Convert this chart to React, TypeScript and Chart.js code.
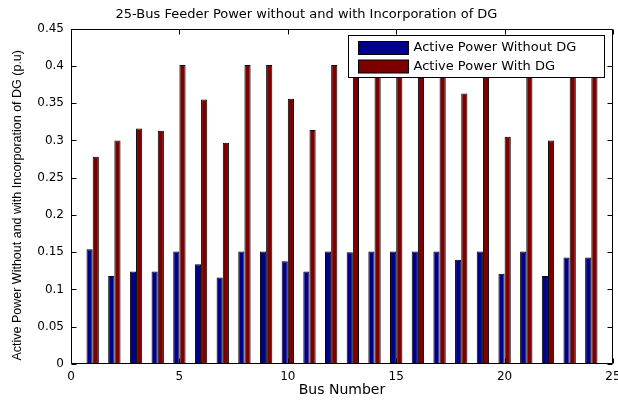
import { useEffect, useRef } from "react";
import { Chart, registerables } from "chart.js";

Chart.register(...registerables);

// Bus index along the feeder
const busNumbers = [
  1, 2, 3, 4, 5, 6, 7, 8, 9, 10, 11, 12, 13, 14, 15, 16, 17, 18, 19, 20, 21, 22, 23, 24,
];

// Active power (p.u) per bus, before DG is connected
const powerWithoutDG = [
  0.154, 0.118, 0.124, 0.124, 0.151, 0.134, 0.116, 0.151, 0.151, 0.138, 0.124, 0.151,
  0.15, 0.151, 0.151, 0.151, 0.151, 0.14, 0.151, 0.121, 0.151, 0.118, 0.143, 0.143,
];

// Active power (p.u) per bus, after DG is connected
const powerWithDG = [
  0.278, 0.3, 0.316, 0.313, 0.401, 0.355, 0.297, 0.401, 0.401, 0.356, 0.314, 0.401,
  0.401, 0.401, 0.401, 0.401, 0.401, 0.363, 0.401, 0.305, 0.401, 0.3, 0.401, 0.401,
];

const seriesNames = ["Active Power Without DG", "Active Power With DG"];
const seriesColors = ["#00008c", "#7c0000"];

const yTicks = [0, 0.05, 0.1, 0.15, 0.2, 0.25, 0.3, 0.35, 0.4, 0.45];
const xTicks = [0, 5, 10, 15, 20, 25];

const chartTitle = "25-Bus Feeder Power without and with Incorporation of DG";
const xTitle = "Bus Number";
const yTitle = "Active Power Without and with Incorporation of DG (p.u)";

const TEXT_FONT = "'DejaVu Sans', 'Liberation Sans', Arial, sans-serif";
const NARROW_FONT = "'Liberation Sans', Arial, sans-serif";

// Box around the plot with inward ticks on all four sides, a legend inside the
// plot and the rotated y-axis title.
const framePlugin = {
  id: "matlabFrame",
  afterDatasetsDraw(chart: any) {
    const { ctx, chartArea: a, scales } = chart;
    const L = Math.round(a.left) + 0.5;
    const R = Math.round(a.right) - 0.5;
    const T = Math.round(a.top) + 0.5;
    const B = Math.round(a.bottom) - 0.5;
    const tick = 5;
    ctx.save();
    ctx.strokeStyle = "#000";
    ctx.lineWidth = 1;
    ctx.beginPath();
    ctx.rect(L, T, R - L, B - T);
    for (const v of xTicks) {
      const px = Math.round(scales.x.getPixelForValue(v)) + 0.5;
      ctx.moveTo(px, B);
      ctx.lineTo(px, B - tick);
      ctx.moveTo(px, T);
      ctx.lineTo(px, T + tick);
    }
    for (const v of yTicks) {
      const py = Math.round(scales.y.getPixelForValue(v)) + 0.5;
      ctx.moveTo(L, py);
      ctx.lineTo(L + tick, py);
      ctx.moveTo(R, py);
      ctx.lineTo(R - tick, py);
    }
    ctx.stroke();

    // Legend box in the upper-right corner of the plot
    const boxW = 256;
    const boxH = 42;
    const bx = Math.round(a.right) - 9 - boxW + 0.5;
    const by = Math.round(a.top) + 6 + 0.5;
    ctx.fillStyle = "#fff";
    ctx.fillRect(bx, by, boxW, boxH);
    ctx.strokeRect(bx, by, boxW, boxH);
    ctx.font = `13px ${TEXT_FONT}`;
    ctx.textBaseline = "middle";
    ctx.textAlign = "left";
    seriesNames.forEach((name, i) => {
      const rowY = by + 12.5 + i * 18.5;
      ctx.fillStyle = seriesColors[i];
      ctx.fillRect(bx + 10, rowY - 6.5, 50, 13);
      ctx.strokeRect(bx + 10, rowY - 6.5, 50, 13);
      ctx.fillStyle = "#000";
      ctx.fillText(name, bx + 65, rowY);
    });

    // Rotated y-axis title, centred a little below the middle of the plot
    ctx.translate(18, (a.top + a.bottom) / 2 + 9);
    ctx.rotate(-Math.PI / 2);
    ctx.font = `12.5px ${NARROW_FONT}`;
    ctx.textAlign = "center";
    ctx.textBaseline = "middle";
    ctx.fillStyle = "#000";
    ctx.fillText(yTitle, 0, 0);
    ctx.restore();
  },
};

export default function App() {
  const canvasRef = useRef<HTMLCanvasElement | null>(null);

  useEffect(() => {
    document.body.style.margin = "0";
    const canvas = canvasRef.current;
    if (!canvas) return;

    const chart = new Chart(canvas, {
      type: "bar",
      data: {
        datasets: [
          {
            label: seriesNames[0],
            data: busNumbers.map((b, i) => ({ x: b, y: powerWithoutDG[i] })),
            backgroundColor: seriesColors[0],
            borderColor: "#000",
            borderWidth: 1,
          },
          {
            label: seriesNames[1],
            data: busNumbers.map((b, i) => ({ x: b, y: powerWithDG[i] })),
            backgroundColor: seriesColors[1],
            borderColor: "#000",
            borderWidth: 1,
          },
        ],
      },
      options: {
        responsive: false,
        animation: false,
        devicePixelRatio: 1,
        datasets: {
          bar: { categoryPercentage: 0.57, barPercentage: 1 },
        },
        layout: { padding: { left: 0, right: 5, top: 0, bottom: 0 } },
        plugins: {
          legend: { display: false },
          tooltip: { enabled: false },
          title: {
            display: true,
            text: chartTitle,
            color: "#000",
            font: { family: TEXT_FONT, size: 13, weight: "normal" },
            padding: { top: 7, bottom: 6 },
          },
        },
        scales: {
          x: {
            type: "linear",
            min: 0,
            max: 25,
            offset: false,
            grid: { display: false, drawTicks: false },
            border: { display: false },
            ticks: {
              stepSize: 5,
              padding: 6,
              color: "#000",
              font: { family: TEXT_FONT, size: 12 },
              maxRotation: 0,
            },
            title: {
              display: true,
              text: xTitle,
              color: "#000",
              font: { family: TEXT_FONT, size: 14 },
              padding: { top: 0, bottom: 2 },
            },
            afterFit(scale: any) {
              scale.height = 37;
              scale.paddingLeft = 0;
              scale.paddingRight = 0;
            },
          },
          y: {
            min: 0,
            max: 0.45,
            grid: { display: false, drawTicks: false },
            border: { display: false },
            ticks: {
              stepSize: 0.05,
              padding: 7,
              color: "#000",
              font: { family: TEXT_FONT, size: 12 },
              callback: (v: any) => String(Number(Number(v).toFixed(2))),
            },
            title: { display: false },
            afterFit(scale: any) {
              scale.width = 71;
              scale.paddingTop = 0;
              scale.paddingBottom = 0;
            },
          },
        },
      },
      plugins: [framePlugin],
    });

    return () => chart.destroy();
  }, []);

  return (
    <div style={{ width: 618, height: 401, background: "#fff" }}>
      <canvas ref={canvasRef} width={618} height={401} />
    </div>
  );
}
